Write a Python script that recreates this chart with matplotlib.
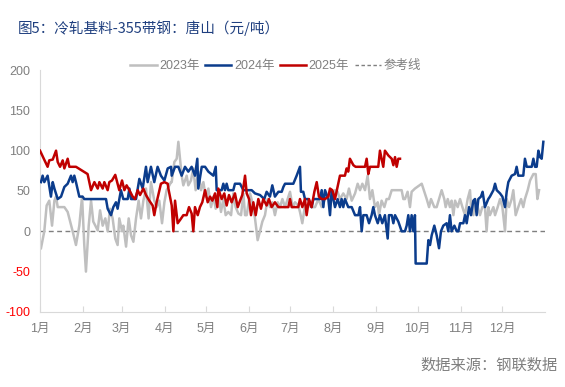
import matplotlib
matplotlib.use("Agg")
import matplotlib.pyplot as plt
from matplotlib.lines import Line2D

plt.rcParams['font.family'] = ['Liberation Sans', 'Noto Sans CJK SC', 'DejaVu Sans']

# ---------------- data (day of year, value) ----------------
days_2023 = [0.7, 3.1, 4.8, 6.7, 8.7, 10.4, 11.6, 12.8, 16.4, 17.6, 20, 23.6, 26, 28.4, 30.4, 32, 33.2,
             35.2, 36.9, 38.5, 40, 41.7, 43.4, 45.3, 47.2, 48.9, 50.6, 52.5, 54.4, 56.1, 57.3, 59.3, 60.2,
             62.2, 64.1, 65.8, 67.5, 69.4, 71.3, 73, 74.7, 76.6, 78.5, 80.2, 82.6, 84.3, 86.2, 88.2, 89.9,
             91.5, 93.5, 94.7, 95.2, 97.1, 98.8, 100, 101.2, 102.4, 103.6, 106, 107.2, 109.1, 110.8, 112.5,
             114.4, 116.4, 118.1, 119.7, 121.7, 123.6, 125.3, 127, 128.9, 130.8, 132.5, 134.2, 136.1, 138.1,
             139.7, 141.4, 143.4, 145.3, 147, 148.2, 149.4, 151.8, 153.5, 155.4, 157.3, 159, 160.7, 162.6,
             164.5, 166.2, 167.9, 169.8, 171.8, 173.5, 175.2, 177.1, 179, 180.7, 182.6, 184.3, 186.7, 187.9,
             189.6, 191.5, 193.9, 196.3, 198.8, 201.2, 203.6, 206, 208.4, 210.8, 213.2, 215.1, 216.8, 219.2,
             221.6, 223.3, 225.3, 227.7, 229.6, 231.3, 233, 234.9, 236.8, 238.5, 240.2, 242.1, 244.1, 245,
             246.9, 248.9, 250.5, 252.2, 254.2, 261.4, 262.6, 263.8, 265.7, 267.4, 268.6, 269.8, 271, 275.9,
             279.5, 281.2, 282.6, 285, 286.7, 288.4, 290.3, 292.2, 293.2, 294.7, 296.3, 297.5, 298.8, 300,
             301.9, 303.6, 305.3, 307.2, 309.1, 310.8, 311.5, 313.2, 314.4, 316.3, 318, 319.7, 321.6, 322.8,
             324, 325.2, 327.7, 328.9, 330.8, 332.5, 334.2, 336.1, 337.3, 339, 340.9, 342.1, 343.8, 345.7,
             347.7, 349.3, 350.5, 352.5, 354.2, 356.6, 358.3, 359.5, 360.7]
vals_2023 = [-21, 0, 32, 38, 7, 38, 43, 30, 30, 30, 24, 0, -17, 7, 43, -17, -50,
             7, 38, 12, 7, 1, 26, 7, 16, 0, 28, 16, -9, -17, 16, 0, 7,
             -19, 16, -5, -13, 16, 38, 16, 38, 53, 16, 61, 38, 30, 38, 10, 36,
             51, 57, 61, 61, 86, 90, 111, 90, 69, 57, 69, 57, 63, 78, 51,
             74, 51, 61, 43, 53, 30, 43, 28, 47, 24, 40, 20, 24, 20,
             47, 30, 22, 20, 47, 20, 20, 47, 36, 16, -11, 0, 12, 20,
             40, 30, 36, 20, 36, 30, 40, 30, 40, 49, 30, 36, 32, 24,
             10, 32, 32, 30, 30, 40, 30, 40, 45, 40, 51, 49, 40, 47,
             40, 53, 38, 47, 59, 51, 59, 51, 69, 40, 51, 30, 36, 20,
             38, 30, 40, 40, 51, 51, 40, 40, 49, 30, 49, 51, 53, 59,
             40, 30, 40, 30, 30, 40, 51, 40, 30, 40, 30, 38, 20, 38,
             30, 40, 30, 20, 40, 51, 30, 20, 40, 30, 20, 30, 30, 0,
             30, 20, 30, 20, 30, 40, 30, 0, 40, 30, 40, 51, 20, 30,
             40, 30, 40, 51, 63, 71, 71, 40, 51]

days_2024 = [0.7, 1.9, 3.1, 5.5, 7.9, 9.2, 10.4, 12.8, 15.2, 17.6, 20, 22.4, 23.6, 24.8, 26, 28.4, 30.8, 32,
             47.7, 48.9, 51.3, 53, 54.9, 56.1, 58.5, 60.2, 63.4, 64.6, 65.8, 69.4, 71.8, 74.2, 76.6, 77.8,
             80.2, 82.6, 85, 87.4, 89.9, 92.3, 94.7, 95.2, 97.6, 100, 102.4, 104.8, 107.2, 109.6, 112, 113.7,
             114.4, 116.9, 119.3, 121.7, 125.3, 127, 127.7, 131.3, 132.5, 133.7, 134.9, 136.1, 139.7, 140.9,
             144.6, 147, 149.4, 153, 155.4, 159, 162.1, 163.8, 166.2, 167.9, 169.8, 172.3, 174.7, 175.9,
             177.1, 183.1, 185.5, 187.9, 188.6, 190.3, 191.5, 193.9, 196.3, 197.6, 200, 202.4, 203.6, 204.8,
             206, 208.4, 209.6, 210.8, 212, 213.2, 215.1, 216.8, 218, 219.2, 220.4, 222.8, 225.3, 227.7,
             230.1, 231.3, 232.5, 233.7, 236.1, 237.8, 239.7, 240.9, 242.1, 244.1, 245.7, 247.4, 249.3, 251.3,
             252.2, 254.2, 255.4, 256.6, 259, 261.4, 263.8, 265, 266.2, 267.4, 268.6, 269.8, 271, 271.5,
             279.5, 280.7, 281.9, 283.1, 285, 286.7, 288.4, 289.8, 291.5, 293.9, 295.1, 296.3, 297.5, 299.5,
             301.2, 302.4, 303.6, 306, 307.2, 308.4, 310.1, 311.5, 313.2, 314.4, 315.6, 316.8, 318.7, 319.9,
             321.6, 324, 325.2, 327.7, 328.9, 330.1, 332.5, 334.2, 336.1, 337.3, 338.5, 340.9, 343.3, 344.5,
             345.7, 349.3, 350.5, 351.8, 355.4, 356.6, 357.8, 359, 360.2, 361.4, 362.6, 363.8]
vals_2024 = [61, 69, 61, 69, 43, 61, 53, 40, 43, 55, 59, 69, 61, 69, 61, 43, 43, 40,
             40, 28, 20, 30, 36, 28, 51, 40, 40, 53, 40, 40, 65, 53, 80, 61,
             80, 61, 80, 69, 63, 78, 80, 69, 80, 80, 69, 80, 74, 80, 69, 90,
             53, 80, 80, 74, 69, 80, 51, 51, 59, 51, 59, 51, 51, 59,
             59, 51, 51, 51, 47, 45, 40, 49, 43, 57, 43, 49, 49, 55,
             59, 59, 69, 80, 49, 49, 40, 40, 30, 40, 40, 40, 51, 30,
             51, 40, 20, 51, 40, 30, 40, 30, 40, 30, 40, 30, 30, 20,
             20, 30, 0, 20, 20, 10, 20, 30, 20, 10, 20, 10, 20, -9,
             20, 20, 10, 20, 12, 0, 0, 7, 20, 0, 20, 0, 20, -40,
             -40, -11, -17, -5, 7, -5, -21, 0, 7, 10, 0, 20, 0, 7,
             0, 0, 10, 10, 20, 10, 30, 20, 38, 40, 20, 40, 43, 49,
             30, 40, 43, 51, 59, 51, 47, 43, 30, 49, 61, 69, 71, 80,
             69, 69, 90, 80, 80, 90, 80, 80, 100, 92, 90, 111]

days_2025 = [0, 5.5, 6.7, 9.2, 11.6, 12.8, 14.5, 16.4, 17.6, 20, 21.2, 26, 34.4, 36.9, 39.3, 41.7, 42.9,
             45.3, 46.5, 48.9, 50.1, 52, 54.4, 56.1, 57.3, 59.3, 61, 62.6, 64.6, 67, 68.7, 70.6, 72.3, 74.7,
             76.6, 79, 81.4, 82.6, 84.3, 87.4, 89.9, 92.3, 92.8, 95.2, 96.4, 97.6, 99.5, 101.2, 103.6, 106,
             107.7, 109.6, 110.8, 112, 114, 115.6, 117.3, 119.3, 121.2, 122.9, 124.6, 126.5, 128.2, 128.9,
             131.3, 133.2, 134.9, 136.6, 138.5, 140.9, 142.9, 144.6, 146.2, 148.2, 149.4, 151.1, 152.5, 154.2,
             155.9, 157.8, 159.7, 161.4, 163.8, 165.5, 167.4, 169.8, 172.3, 174.7, 179.5, 180.7, 181.9, 186.7,
             187.9, 189.6, 191.5, 192.7, 194.4, 196.3, 198.3, 200, 201.6, 203.6, 206, 208.4, 209.6, 211.3,
             213.2, 215.6, 216.8, 220.4, 221.6, 222.8, 224, 226.5, 228.1, 234.9, 236.1, 237.3, 238.5, 244.5,
             245.7, 246.9, 248.1, 249.3, 251.8, 254.2, 255.4, 256.6, 257.8, 259, 260.2]
vals_2025 = [100, 80, 88, 89, 100, 86, 80, 88, 78, 90, 80, 80, 71, 51, 61, 53, 61,
             53, 61, 51, 61, 63, 70, 59, 51, 63, 51, 57, 51, 43, 40, 51, 45, 53,
             45, 38, 32, 20, 36, 59, 61, 59, 53, 32, 0, 38, 10, 14, 20, 20,
             30, 22, 0, 30, 20, 30, 36, 51, 36, 43, 38, 47, 30, 53,
             40, 47, 32, 45, 36, 47, 30, 38, 45, 69, 47, 40, 20, 36,
             20, 40, 28, 40, 32, 40, 30, 36, 30, 30, 30, 40, 30, 30,
             40, 30, 40, 20, 40, 30, 49, 61, 43, 40, 40, 43, 53, 51,
             40, 59, 69, 69, 78, 74, 90, 82, 80, 80, 90, 71, 80, 80,
             100, 90, 80, 100, 94, 90, 82, 92, 80, 90, 90]

series_labels = ['2023年', '2024年', '2025年']
ref_label = '参考线'
month_starts = [0, 31, 59, 90, 120, 151, 181, 212, 243, 273, 304, 334]
month_labels = ['1月', '2月', '3月', '4月', '5月', '6月', '7月', '8月', '9月', '10月', '11月', '12月']
y_ticks = [-100, -50, 0, 50, 100, 150, 200]

title = '图5：冷轧基料-355带钢：唐山（元/吨）'
source = '数据来源：钢联数据'

# ---------------- figure ----------------
fig = plt.figure(figsize=(5.65, 3.87), dpi=100)
ax = fig.add_axes([0.0708, 0.194, 0.8938, 0.625])

c23, c24, c25 = '#BFBFBF', '#0B3C8C', '#C00000'
ax.plot(days_2023, vals_2023, color=c23, lw=1.8, zorder=2)
ax.plot(days_2024, vals_2024, color=c24, lw=1.8, zorder=3)
ax.plot(days_2025, vals_2025, color=c25, lw=1.8, zorder=4)
ax.axhline(0, color='#7F7F7F', lw=1.0, ls=(0, (3.5, 2.5)), zorder=1)

ax.set_xlim(0, 365)
ax.set_ylim(-100, 200)
ax.set_yticks(y_ticks)
ax.set_yticklabels([str(v) for v in y_ticks])
for lbl, v in zip(ax.get_yticklabels(), y_ticks):
    lbl.set_color('#FF0000' if v < 0 else '#7F7F7F')
ax.tick_params(axis='y', length=0, labelsize=9, pad=7)
ax.set_xticks(month_starts)
ax.set_xticklabels(month_labels)
ax.tick_params(axis='x', direction='in', length=4, color='#D9D9D9', labelsize=9,
               labelcolor='#7F7F7F', pad=8)
for s in ['top', 'right']:
    ax.spines[s].set_visible(False)
ax.spines['left'].set_color('#D9D9D9')
ax.spines['bottom'].set_color('#D9D9D9')

handles = [Line2D([], [], color=c23, lw=1.8), Line2D([], [], color=c24, lw=1.8),
           Line2D([], [], color=c25, lw=1.8),
           Line2D([], [], color='#7F7F7F', lw=1.0, ls=(0, (2.5, 1.8)))]
leg = fig.legend(handles, series_labels + [ref_label], loc='center', ncol=4,
                 bbox_to_anchor=(0.488, 0.829), frameon=False, fontsize=9,
                 handlelength=2.1, handletextpad=0.2, columnspacing=0.45)
for t in leg.get_texts():
    t.set_color('#7F7F7F')

fig.text(0.032, 0.928, title, fontsize=10.5, color='#1F3F7F', va='center', ha='left',
         family=['Noto Sans CJK SC', 'DejaVu Sans'])
fig.text(0.987, 0.057, source, fontsize=11, color='#7F7F7F', va='center', ha='right',
         family=['Noto Sans CJK SC', 'DejaVu Sans'])

fig.savefig('out.png', dpi=100)
